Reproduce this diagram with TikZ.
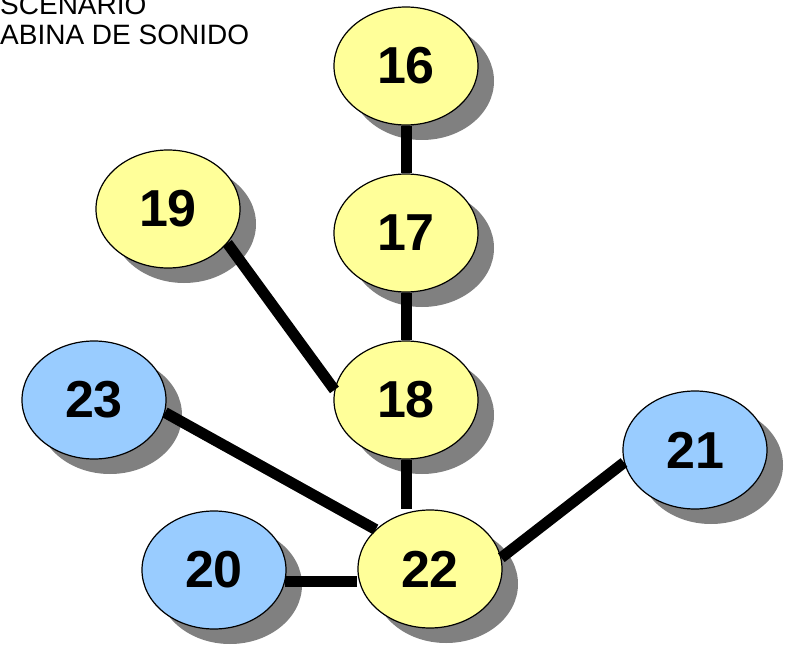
\documentclass[tikz,border=0pt]{standalone}
\usepackage{fontspec}
\setmainfont{Liberation Sans}
\usetikzlibrary{shapes.geometric,shadows}

\definecolor{paleyellow}{HTML}{FFFF99}
\definecolor{paleblue}{HTML}{99CCFF}
\definecolor{shadowgray}{HTML}{808080}

\tikzset{
    station/.style={ellipse, draw=black, line width=1.2pt,
        minimum width=144pt, minimum height=118pt, inner sep=0pt,
        font=\fontsize{52}{52}\selectfont\bfseries,
        drop shadow={shadow xshift=16pt, shadow yshift=-15pt,
            fill=shadowgray, opacity=1}},
    yellownode/.style={station, fill=paleyellow},
    bluenode/.style={station, fill=paleblue},
    link/.style={line width=11pt, line cap=butt},
    legend/.style={anchor=base west, inner sep=0pt,
        font=\fontsize{28}{28}\selectfont}
}

\begin{document}
\begin{tikzpicture}[x=1pt,y=-1pt]
    \useasboundingbox (0,0) rectangle (787,647);

    \node[legend] (stage) at (0,15) {SCENARIO};
    \node[legend] (booth) at (0,45) {ABINA DE SONIDO};

    \node[yellownode] (n16) at (406,66) {16};
    \node[yellownode] (n17) at (406,233) {17};
    \node[yellownode] (n18) at (406,400) {18};
    \node[yellownode] (n19) at (168,209) {19};
    \node[bluenode]   (n23) at (94,400)  {23};
    \node[yellownode] (n22) at (430,569) {22};
    \node[bluenode]   (n20) at (214,570) {20};
    \node[bluenode]   (n21) at (695,450) {21};

    \draw[link] (n16.south) -- (n17.north);
    \draw[link] (n17.south) -- (n18.north);
    \draw[link] (n18.south) -- (n18.south |- n22.north);
    \draw[link] (n19.-30) -- (n18.172);
    \draw[link] (n23.-10) -- (n22.144);
    \draw[link] (n20.-9) -- (n20.-9 -| n22.west);
    \draw[link] (n21.190) -- (n22.9);
\end{tikzpicture}
\end{document}
